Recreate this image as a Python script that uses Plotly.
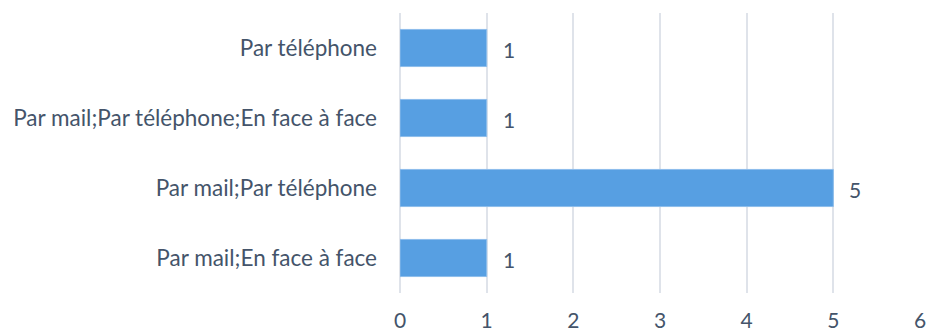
import plotly.graph_objects as go

# Survey: preferred contact channels
categories = [
    "Par mail;En face à face",
    "Par mail;Par téléphone",
    "Par mail;Par téléphone;En face à face",
    "Par téléphone",
]
counts = [1, 5, 1, 1]
x_ticks = [0, 1, 2, 3, 4, 5, 6]

TEXT_COLOR = "#44546A"
FONT = "Lato"

fig = go.Figure(
    go.Bar(
        x=counts,
        y=categories,
        orientation="h",
        marker=dict(color="#579FE2", line=dict(color="#8DBDEB", width=1)),
        hoverinfo="skip",
    )
)

# value labels to the right of each bar
for c, v in zip(categories, counts):
    fig.add_annotation(
        x=v, y=c, text=str(v), showarrow=False,
        xanchor="left", yanchor="middle", xshift=14, yshift=-1,
        font=dict(family=FONT, size=21, color=TEXT_COLOR),
    )

fig.update_layout(
    width=926, height=333,
    margin=dict(l=400, r=6, t=13, b=40),
    paper_bgcolor="white", plot_bgcolor="white",
    bargap=0.47,
    showlegend=False,
    font=dict(family=FONT, color=TEXT_COLOR),
)
fig.update_xaxes(
    range=[0, 6], tickvals=x_ticks, showgrid=True, gridcolor="#DFE3EA", gridwidth=2,
    zeroline=True, zerolinecolor="#DFE3EA", zerolinewidth=2,
    showline=False, ticks="", ticklabelstandoff=13, automargin=False,
    ticklabeloverflow="allow",
    tickfont=dict(family=FONT, size=21, color=TEXT_COLOR),
)
fig.update_yaxes(
    showgrid=False, showline=False, ticks="", ticklabelstandoff=22, automargin=False,
    tickfont=dict(family=FONT, size=22.5, color=TEXT_COLOR),
)

fig.write_html("out.html")
